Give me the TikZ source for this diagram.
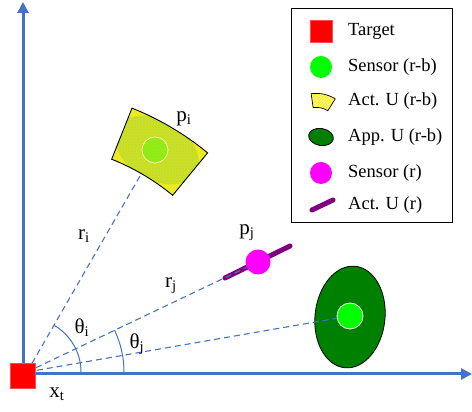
\documentclass[tikz,border=0pt]{standalone}
\usepackage{fontspec}
\setmainfont{Liberation Serif}
\usetikzlibrary{arrows.meta,patterns,calc}
\definecolor{axisblue}{HTML}{4472C4}
\definecolor{dkgreen}{HTML}{008000}
\definecolor{lime}{HTML}{00FF00}
\definecolor{mag}{HTML}{FF00FF}
\definecolor{purp}{HTML}{800080}
\definecolor{meshcol}{RGB}{222,232,60}
\begin{document}
\begin{tikzpicture}[x=1pt,y=1pt,
  axis/.style={draw=axisblue,line width=3pt,-{Triangle[width=11pt,length=11pt]}},
  ray/.style={draw=axisblue,line width=1.1pt,dash pattern=on 6pt off 4pt},
  anglearc/.style={draw=axisblue,line width=1pt},
  lab/.style={inner sep=0pt,font=\fontsize{21}{24}\selectfont},
  legtext/.style={anchor=west,inner sep=0pt,font=\fontsize{18.5}{22}\selectfont},
  targetbox/.style={rectangle,fill=red,draw=red!70,inner sep=0pt},
  sensorrb/.style={circle,fill=lime,inner sep=0pt},
  sensorr/.style={circle,fill=mag,inner sep=0pt},
  stick/.style={draw=purp,line width=5pt,line cap=round},
  appu/.style={fill=dkgreen,draw=black,line width=0.8pt}
]
\useasboundingbox (0,0) rectangle (472,412);
% axes
\coordinate (O) at (27,40);
\coordinate (xend) at (472,38);
\coordinate (yend) at (23,410);
\coordinate (ax0) at (23,38);
\draw[axis] (ax0) -- (xend);
\draw[axis] (ax0) -- (yend);

% ray to p_i (under the sector)
\coordinate (pic) at (155,262);
\draw[ray] (O) -- (pic);

% actual uncertainty sector (r-b)
\begin{scope}[shift={(O)}]
  \path[fill=yellow] (50.5:229) arc[start angle=50.5,end angle=68.3,radius=229]
     -- (68.3:284) arc[start angle=68.3,end angle=50.5,radius=284] -- cycle;
  \begin{scope}
    \clip (50.5:229) arc[start angle=50.5,end angle=68.3,radius=229]
       -- (68.3:284) arc[start angle=68.3,end angle=50.5,radius=284] -- cycle;
    \path[pattern=crosshatch,pattern color=meshcol] (50.5:229) arc[start angle=50.5,end angle=68.3,radius=229]
       -- (68.3:284) arc[start angle=68.3,end angle=50.5,radius=284] -- cycle;
    \fill[gray!60!green,fill opacity=0.22] (130,222) ellipse[x radius=45,y radius=30,rotate=-30];
  \end{scope}
\end{scope}
\node[circle,fill=green!75!yellow,fill opacity=0.4,draw=yellow!40,line width=0.8pt,minimum size=26pt,inner sep=0pt] (si) at (pic) {};
\begin{scope}[shift={(O)}]
  \draw[black,line width=0.9pt] (50.5:229) arc[start angle=50.5,end angle=68.3,radius=229]
     -- (68.3:284) arc[start angle=68.3,end angle=50.5,radius=284] -- cycle;
\end{scope}

% sensor j (range only)
\coordinate (sa) at (225,134);
\coordinate (sb) at (290,166);
\draw[stick] (sa) -- (sb);
\node[sensorr,minimum size=25pt] (sj) at (258,150) {};
\draw[ray] (O) -- (sj);

% sensor k with apparent uncertainty
\path[appu] (350,95) ellipse[x radius=35,y radius=51,rotate=-6];
\node[sensorrb,draw=white,line width=0.8pt,minimum size=26pt] (sk) at (350,96) {};
\draw[ray] (O) -- (sk);

% angle arcs
\draw[anglearc] ($(O)+(54,0)$) arc[start angle=0,end angle=60,radius=54];
\draw[anglearc] ($(O)+(97,0)$) arc[start angle=0,end angle=25.5,radius=97];

% target
\node[targetbox,minimum size=25pt] (T) at (22.5,36.5) {};

% labels
\node[lab] (lpi) at (184,293) {p\textsubscript{i}};
\node[lab] (lpj) at (247,179) {p\textsubscript{j}};
\node[lab] (lri) at (84,176) {r\textsubscript{i}};
\node[lab] (lrj) at (171,126) {r\textsubscript{j}};
\node[lab] (lti) at (82,84) {θ\textsubscript{i}};
\node[lab] (ltj) at (137,68) {θ\textsubscript{j}};
\node[lab] (lxt) at (57,18) {x\textsubscript{t}};

% legend
\node[draw=black,line width=0.9pt,fill=white,minimum width=161pt,minimum height=214pt,inner sep=0pt] (leg) at (371.5,297) {};
\node[targetbox,minimum size=22pt] (l1) at (321,381) {};
\node[legtext] (t1) at (348,381) {Target};
\node[sensorrb,minimum size=22pt] (l2) at (321,345) {};
\node[legtext] (t2) at (348,345) {Sensor (r-b)};
\begin{scope}[shift={(322,282)},rotate around={-12:(0,28)}]
  \path[fill=yellow] (70:22) arc[start angle=70,end angle=110,radius=22] -- (110:36) arc[start angle=110,end angle=70,radius=36] -- cycle;
  \path[pattern=north east lines,pattern color=white] (70:22) arc[start angle=70,end angle=110,radius=22] -- (110:36) arc[start angle=110,end angle=70,radius=36] -- cycle;
  \draw[black,line width=0.7pt] (70:22) arc[start angle=70,end angle=110,radius=22] -- (110:36) arc[start angle=110,end angle=70,radius=36] -- cycle;
\end{scope}
\node[legtext] (t3) at (348,311) {Act. U (r-b)};
\path[appu] (321,275) ellipse[x radius=12.5,y radius=8.5,rotate=-10];
\node[legtext] (t4) at (348,275) {App. U (r-b)};
\node[sensorr,minimum size=22pt] (l5) at (321,239) {};
\node[legtext] (t5) at (348,239) {Sensor (r)};
\coordinate (la) at (312,202);
\coordinate (lb) at (333,212);
\draw[stick] (la) -- (lb);
\node[legtext] (t6) at (348,207) {Act. U (r)};
\end{tikzpicture}
\end{document}
